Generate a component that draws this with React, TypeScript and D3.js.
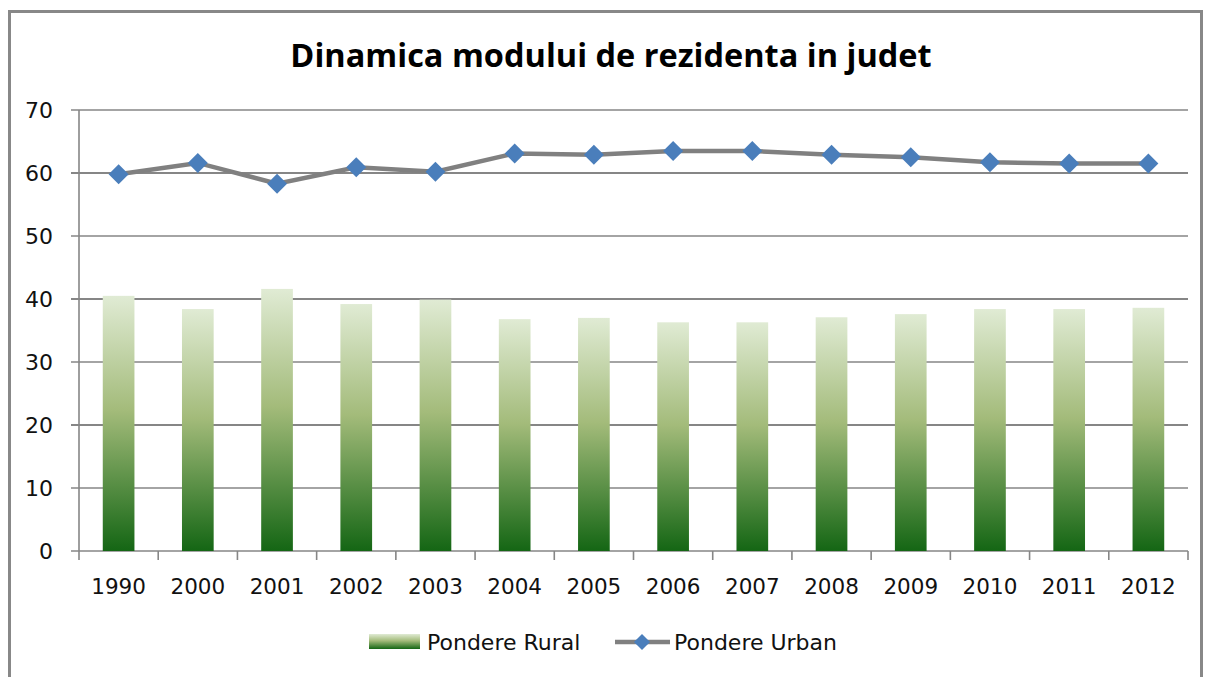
import React from 'react';
import * as d3 from 'd3';

const years = ['1990', '2000', '2001', '2002', '2003', '2004', '2005', '2006', '2007', '2008', '2009', '2010', '2011', '2012'];
const rural = [40.5, 38.4, 41.6, 39.2, 39.9, 36.8, 37.0, 36.3, 36.3, 37.1, 37.6, 38.4, 38.4, 38.6];
const urban = [59.8, 61.6, 58.3, 60.9, 60.2, 63.1, 62.9, 63.5, 63.5, 62.9, 62.5, 61.7, 61.5, 61.5];
const yTicks = [0, 10, 20, 30, 40, 50, 60, 70];

const W = 1207;
const H = 677;
const plot = { left: 79, right: 1188, top: 110, bottom: 551 };
const font = '"DejaVu Sans", sans-serif';
const grid = '#868686';

const App = () => {
  const x = d3.scaleBand<string>().domain(years).range([plot.left, plot.right]).padding(0);
  const y = d3.scaleLinear().domain([0, 70]).range([plot.bottom, plot.top]);
  const barW = x.bandwidth() * 0.4;
  const cx = (yr: string) => (x(yr) as number) + x.bandwidth() / 2;

  const line = d3
    .line<number>()
    .x((_, i) => cx(years[i]))
    .y((v) => y(v));

  const diamond = d3.symbol(d3.symbolSquare, 200)();
  const smallDiamond = d3.symbol(d3.symbolSquare, 130)();
  const boundaries = [...years.map((yr) => x(yr) as number), plot.right];

  return (
    <svg width={W} height={H} style={{ position: 'absolute', left: 0, top: 0, background: '#fff' }}>
      <defs>
        <linearGradient id="ruralFill" x1="0" y1="0" x2="0" y2="1">
          <stop offset="0" stopColor="#e0ebd4" />
          <stop offset="0.45" stopColor="#a3bb7a" />
          <stop offset="1" stopColor="#146614" />
        </linearGradient>
      </defs>

      <rect x={9.5} y={11.5} width={1192} height={700} fill="none" stroke="#888" strokeWidth={3} />

      <text x={611} y={67} textAnchor="middle" fontFamily='"Open Sans", sans-serif' fontWeight="bold" fontSize={32.5} fill="#000">
        Dinamica modului de rezidenta in judet
      </text>

      {/* gridlines + y ticks */}
      {yTicks.map((t) => (
        <g key={t}>
          <line x1={plot.left - 8} x2={plot.right} y1={y(t)} y2={y(t)} stroke={grid} strokeWidth={t % 20 === 0 && t !== 0 ? 2 : 1.6} />
          <text x={53} y={y(t)} dy="0.36em" textAnchor="end" fontFamily={font} fontSize={22} fill="#111">
            {t}
          </text>
        </g>
      ))}
      <line x1={plot.left} x2={plot.left} y1={plot.top} y2={plot.bottom} stroke={grid} strokeWidth={1.6} />

      {/* x ticks */}
      {boundaries.map((b, i) => (
        <line key={i} x1={b} x2={b} y1={plot.bottom} y2={plot.bottom + 9} stroke={grid} strokeWidth={1.6} />
      ))}
      {years.map((yr) => (
        <text key={yr} x={cx(yr)} y={594} textAnchor="middle" fontFamily={font} fontSize={21.5} fill="#111">
          {yr}
        </text>
      ))}

      {/* bars */}
      {rural.map((v, i) => (
        <rect key={i} x={cx(years[i]) - barW / 2} y={y(v)} width={barW} height={y(0) - y(v)} fill="url(#ruralFill)" />
      ))}

      {/* line */}
      <path d={line(urban) || ''} fill="none" stroke="#808080" strokeWidth={4.5} />
      {urban.map((v, i) => (
        <path key={i} d={diamond || ''} transform={`translate(${cx(years[i])},${y(v)}) rotate(45)`} fill="#4a7ebb" />
      ))}

      {/* legend */}
      <rect x={369} y={634} width={51} height={15} fill="url(#ruralFill)" />
      <text x={427} y={642} dy="0.36em" fontFamily={font} fontSize={22} fill="#111">
        Pondere Rural
      </text>
      <line x1={615} x2={670} y1={642} y2={642} stroke="#808080" strokeWidth={4.5} />
      <path d={smallDiamond || ''} transform="translate(642,642) rotate(45)" fill="#4a7ebb" />
      <text x={674} y={642} dy="0.36em" fontFamily={font} fontSize={22} fill="#111">
        Pondere Urban
      </text>
    </svg>
  );
};

export default App;
